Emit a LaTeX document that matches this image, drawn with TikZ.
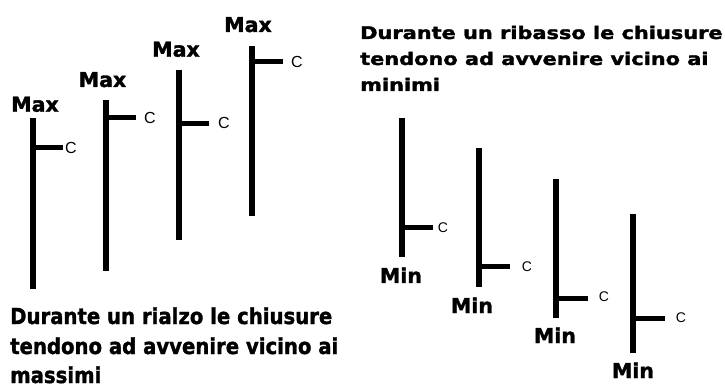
\documentclass[tikz,border=0pt]{standalone}
\usepackage{fontspec}
\setmainfont{DejaVu Sans}
\newfontfamily\heavy{DejaVu Sans}[BoldFeatures={FakeBold=1.6}]
\newfontfamily\cfont{Liberation Sans}
\tikzset{
  bar/.style={line width=6pt},
  tick/.style={line width=5pt},
  lbl/.style={inner sep=0pt, font=\heavy\bfseries\fontsize{20.5}{20.5}\selectfont},
  cl/.style={inner sep=0pt, font=\cfont\fontsize{16}{16}\selectfont},
  cr/.style={inner sep=0pt, font=\cfont\fontsize{14}{14}\selectfont},
  txtl/.style={inner sep=0pt, anchor=base west, font=\heavy\bfseries\fontsize{22}{22}\selectfont},
  txtr/.style={inner sep=0pt, anchor=base west, font=\heavy\bfseries\fontsize{17.4}{17.4}\selectfont},
}
\begin{document}
\begin{tikzpicture}[x=1pt,y=-1pt]
\useasboundingbox (0,0) rectangle (725,387);
% left group (rising)
\foreach \i/\x/\t/\b/\c/\e/\mb/\mx/\cx/\cy in {1/32.5/118/289/148/63/111.7/35/71/148, 2/106/100/271/118/136/87/102.5/150/117.5, 3/179/70/240/124/209/56.7/176/224/122.5, 4/252/46/216/62/283/32/248/297/62}{
  \coordinate (lt\i) at (\x,\t);
  \coordinate (lb\i) at (\x,\b);
  \coordinate (lc\i) at (\x,\c);
  \coordinate (le\i) at (\e,\c);
  \draw[bar] (lt\i) -- (lb\i);
  \draw[tick] (lc\i) -- (le\i);
  \node[lbl, anchor=base] (max\i) at (\mx,\mb) {Max};
  \node[cl] (lC\i) at (\cx,\cy) {C};
}
% right group (falling)
\foreach \i/\x/\t/\b/\c/\e/\mb/\mx/\cx/\cy in {1/402/118/257/228/433/283/401/443/227.5, 2/479/148/287/267/510/313/472/527/266.7, 3/556/179/318/298/588/343/555/604/296.7, 4/633/214/353/318/665/378/633/681/318}{
  \coordinate (rt\i) at (\x,\t);
  \coordinate (rb\i) at (\x,\b);
  \coordinate (rc\i) at (\x,\c);
  \coordinate (re\i) at (\e,\c);
  \draw[bar] (rt\i) -- (rb\i);
  \draw[tick] (rc\i) -- (re\i);
  \node[lbl, anchor=base] (min\i) at (\mx,\mb) {Min};
  \node[cr] (rC\i) at (\cx,\cy) {C};
}
% texts
\node[txtl] (tl1) at (10,324) {\scalebox{0.894}[1]{Durante un rialzo le chiusure}};
\node[txtl] (tl2) at (10,354) {\scalebox{0.894}[1]{tendono ad avvenire vicino ai}};
\node[txtl] (tl3) at (10,383) {\scalebox{0.894}[1]{massimi}};
\node[txtr] (tr1) at (360,39) {\scalebox{1.2}[1]{Durante un ribasso le chiusure}};
\node[txtr] (tr2) at (360,65) {\scalebox{1.2}[1]{tendono ad avvenire vicino ai}};
\node[txtr] (tr3) at (360,91) {\scalebox{1.2}[1]{minimi}};
\end{tikzpicture}
\end{document}
